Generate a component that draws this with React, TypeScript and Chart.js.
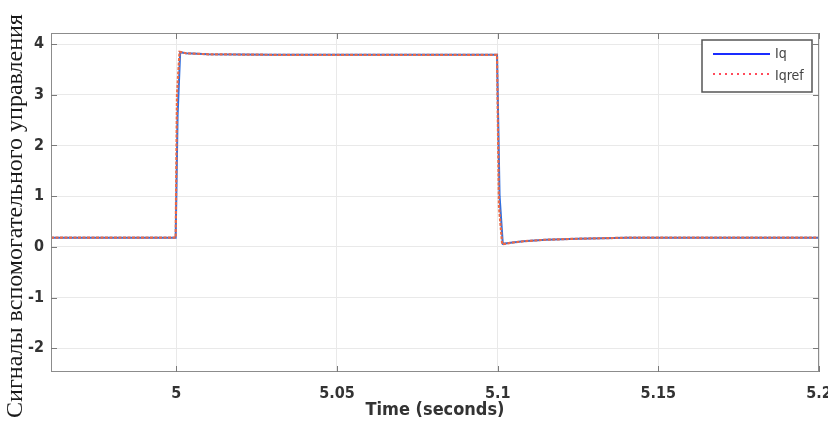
import React, { useEffect, useRef } from "react";
import { Chart, registerables } from "chart.js";

Chart.register(...registerables);

// Rotor-side control current: measured Iq and its reference Iqref
const timeIq = [4.961, 4.9998, 5.0004, 5.0012, 5.003, 5.01, 5.03, 5.06, 5.0998, 5.1006, 5.1016, 5.104, 5.108, 5.115, 5.125, 5.14, 5.2];
const iq = [0.18, 0.18, 2.6, 3.84, 3.82, 3.8, 3.79, 3.79, 3.79, 1.0, 0.06, 0.08, 0.11, 0.14, 0.16, 0.18, 0.18];

const timeIqref = [4.961, 4.9998, 5.0002, 5.001, 5.003, 5.01, 5.03, 5.06, 5.0998, 5.1004, 5.1014, 5.104, 5.108, 5.115, 5.125, 5.14, 5.2];
const iqref = [0.18, 0.18, 3.0, 3.85, 3.82, 3.8, 3.79, 3.79, 3.79, 0.8, 0.05, 0.08, 0.11, 0.14, 0.16, 0.18, 0.18];

const xTicks = [5, 5.05, 5.1, 5.15, 5.2];
const xTickLabels = ["5", "5.05", "5.1", "5.15", "5.2"];
const yTicks = [-2, -1, 0, 1, 2, 3, 4];
const yTickLabels = ["-2", "-1", "0", "1", "2", "3", "4"];

const seriesNames = ["Iq", "Iqref"];
const xTitle = "Time (seconds)";
const yTitle = "Сигналы вспомогательного управления";

const X_MIN = 4.961;
const X_MAX = 5.2;
const Y_MIN = -2.47;
const Y_MAX = 4.22;

const NARROW = '"Liberation Sans Narrow", "DejaVu Sans Condensed", "Liberation Sans", Arial, sans-serif';
const BLUE = "#2f6fe0";
const RED = "#ec6a46";

const framePlugin = {
  id: "frame",
  afterDraw(chart: any) {
    const { ctx, chartArea: a, scales } = chart;
    const xs = scales.x;
    const ys = scales.y;
    ctx.save();

    // axes box
    ctx.strokeStyle = "#8c8c8c";
    ctx.lineWidth = 1;
    ctx.strokeRect(a.left + 0.5, a.top + 0.5, a.right - a.left - 1, a.bottom - a.top - 1);

    // inward tick marks on all four sides
    ctx.strokeStyle = "#7a7a7a";
    ctx.beginPath();
    xTicks.forEach((v) => {
      const px = Math.round(xs.getPixelForValue(v)) + 0.5;
      ctx.moveTo(px, a.bottom);
      ctx.lineTo(px, a.bottom - 6);
      ctx.moveTo(px, a.top);
      ctx.lineTo(px, a.top + 6);
    });
    yTicks.forEach((v) => {
      const py = Math.round(ys.getPixelForValue(v)) + 0.5;
      ctx.moveTo(a.left, py);
      ctx.lineTo(a.left + 6, py);
      ctx.moveTo(a.right, py);
      ctx.lineTo(a.right - 6, py);
    });
    ctx.stroke();

    // legend
    const lx = a.right - 117;
    const ly = a.top + 7;
    const lw = 110;
    const lh = 52;
    ctx.fillStyle = "#ffffff";
    ctx.fillRect(lx, ly, lw, lh);
    ctx.strokeStyle = "#555555";
    ctx.lineWidth = 1.5;
    ctx.strokeRect(lx, ly, lw, lh);

    ctx.lineWidth = 2;
    ctx.strokeStyle = "#1a2cff";
    ctx.beginPath();
    ctx.moveTo(lx + 11, ly + 14);
    ctx.lineTo(lx + 68, ly + 14);
    ctx.stroke();

    ctx.strokeStyle = "#ff4a5a";
    ctx.setLineDash([2, 4]);
    ctx.beginPath();
    ctx.moveTo(lx + 11, ly + 34);
    ctx.lineTo(lx + 68, ly + 34);
    ctx.stroke();
    ctx.setLineDash([]);

    ctx.fillStyle = "#444444";
    ctx.font = `14px ${NARROW}`;
    ctx.textAlign = "left";
    ctx.textBaseline = "middle";
    ctx.fillText(seriesNames[0], lx + 73, ly + 14);
    ctx.fillText(seriesNames[1], lx + 73, ly + 36);

    // x axis title
    ctx.fillStyle = "#333333";
    ctx.font = `bold 18px ${NARROW}`;
    ctx.textAlign = "center";
    ctx.textBaseline = "middle";
    ctx.fillText(xTitle, (a.left + a.right) / 2, 410);

    // y axis title (serif, rotated)
    ctx.translate(16, 216);
    ctx.rotate(-Math.PI / 2);
    ctx.fillStyle = "#1a1a1a";
    ctx.font = '24px "Liberation Serif", "Times New Roman", serif';
    ctx.fillText(yTitle, 0, 0);

    ctx.restore();
  },
};

export default function App() {
  const canvasRef = useRef<HTMLCanvasElement | null>(null);

  useEffect(() => {
    document.body.style.margin = "0";
    const canvas = canvasRef.current;
    if (!canvas) return;

    const chart = new Chart(canvas, {
      type: "line",
      data: {
        datasets: [
          {
            label: seriesNames[0],
            data: timeIq.map((t, i) => ({ x: t, y: iq[i] })),
            borderColor: BLUE,
            borderWidth: 2,
            pointRadius: 0,
            tension: 0,
            order: 2,
          },
          {
            label: seriesNames[1],
            data: timeIqref.map((t, i) => ({ x: t, y: iqref[i] })),
            borderColor: RED,
            borderWidth: 2.2,
            borderDash: [3, 1.5],
            pointRadius: 0,
            tension: 0,
            order: 1,
          },
        ],
      },
      options: {
        responsive: false,
        animation: false,
        devicePixelRatio: 1,
        layout: { padding: { top: 33, right: 9, left: 0, bottom: 0 } },
        plugins: {
          legend: { display: false },
          tooltip: { enabled: false },
        },
        scales: {
          x: {
            type: "linear",
            min: X_MIN,
            max: X_MAX,
            afterBuildTicks: (scale: any) => {
              scale.ticks = xTicks.map((v) => ({ value: v }));
            },
            afterFit: (scale: any) => {
              scale.height = 55;
              scale.paddingLeft = 0;
              scale.paddingRight = 0;
            },
            grid: { color: "#e9e9e9", lineWidth: 1, drawTicks: false },
            border: { display: false },
            ticks: {
              padding: 12,
              color: "#333333",
              font: { family: NARROW, size: 16, weight: "bold" },
              maxRotation: 0,
              autoSkip: false,
              callback: (_v: any, i: number) => xTickLabels[i],
            },
          },
          y: {
            type: "linear",
            min: Y_MIN,
            max: Y_MAX,
            afterBuildTicks: (scale: any) => {
              scale.ticks = yTicks.map((v) => ({ value: v }));
            },
            afterFit: (scale: any) => {
              scale.width = 51;
              scale.paddingTop = 0;
              scale.paddingBottom = 0;
            },
            grid: { color: "#e9e9e9", lineWidth: 1, drawTicks: false },
            border: { display: false },
            ticks: {
              padding: 7,
              color: "#333333",
              font: { family: NARROW, size: 16, weight: "bold" },
              autoSkip: false,
              callback: (_v: any, i: number) => yTickLabels[i],
            },
          },
        },
      },
      plugins: [framePlugin],
    });

    return () => chart.destroy();
  }, []);

  return (
    <div style={{ width: 828, height: 427, background: "#ffffff" }}>
      <canvas ref={canvasRef} width={828} height={427} style={{ display: "block" }} />
    </div>
  );
}
